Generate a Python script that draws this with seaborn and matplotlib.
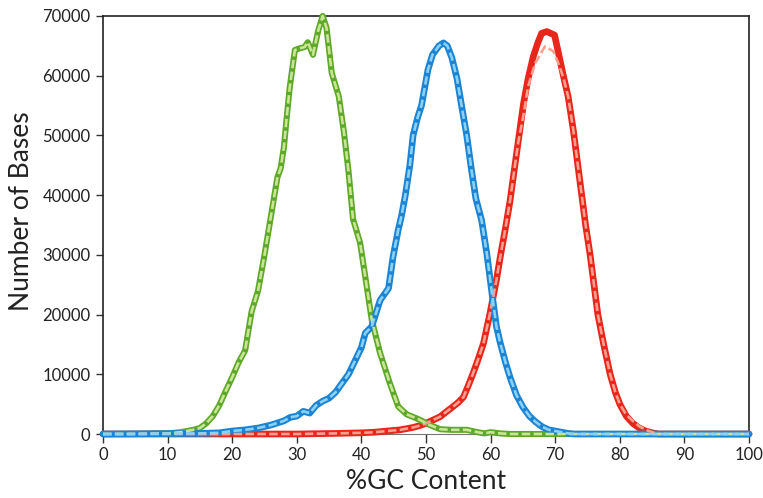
import matplotlib
matplotlib.use("Agg")
import matplotlib.pyplot as plt
import seaborn as sns

# GC content distributions (x = %GC, y = number of bases in thousands)
green_x = [0, 5, 10, 12, 14, 15, 16, 17, 18, 19, 20, 21, 22, 23, 24, 25, 26, 27, 27.5, 28, 28.4, 28.9,
           29.7, 30.5, 31.2, 31.7, 32.5, 33.3, 34.0, 34.6, 35.4, 36.5, 37.3, 38, 38.7, 39.8, 40.6, 41.6,
           42.9, 44.4, 45.7, 47, 48.8, 50.6, 52.2, 54, 56.3, 58, 59, 60, 61.5, 63, 70, 100]
green_y = [0, 0, 0.1, 0.3, 0.7, 1.0, 1.8, 3.0, 4.8, 7.2, 9.5, 12.0, 14.0, 20.5, 24.0, 30.0, 36.5, 43.0, 44.5,
           48.0, 52.6, 58.0, 64.3, 64.6, 64.8, 65.6, 63.5, 67.5, 70.0, 68.0, 60.5, 56.5, 50.5, 44.0, 36.0,
           32.0, 26.3, 19.1, 13.5, 8.5, 4.6, 3.3, 2.5, 1.5, 0.8, 0.7, 0.7, 0.3, 0.1, 0.3, 0.1, 0, 0, 0]

blue_x = [0, 15, 18, 20, 22, 24, 26, 28, 29, 30, 31, 32, 33, 34, 35, 36, 37, 38, 39.3, 40, 40.6, 41.6,
          42.9, 44.2, 44.9, 45.7, 46.2, 46.8, 47.5, 48, 48.7, 49.3, 49.8, 50.3, 51, 52, 52.7, 53.3, 54,
          54.8, 55.5, 56.3, 57, 57.7, 58.6, 59.4, 60.2, 60.9, 61.5, 62.3, 63, 64, 65, 66, 67, 68, 69, 70,
          71, 72, 73, 100]
blue_y = [0, 0.1, 0.2, 0.5, 0.7, 1.0, 1.5, 2.2, 2.8, 3.0, 3.8, 3.5, 4.8, 5.5, 6.0, 7.0, 8.5, 10.0, 12.9,
          14.5, 16.9, 18.0, 22.4, 24.4, 29.7, 34.2, 36.5, 40.0, 45.0, 50.0, 53.0, 55.0, 58.0, 61.0, 63.5,
          65.0, 65.5, 65.0, 63.0, 59.5, 55.0, 50.0, 44.5, 39.5, 35.8, 30.3, 23.6, 18.0, 15.2, 12.0, 9.5,
          6.5, 4.5, 3.0, 2.0, 1.2, 0.7, 0.5, 0.3, 0.1, 0, 0]

red_x = [0, 30, 36, 40, 42, 44, 46, 47, 48, 49, 50, 51, 52.2, 53, 54.2, 55, 55.8, 56.5, 57.3, 58, 58.9,
         59.9, 60.9, 61.5, 62.3, 63, 63.7, 64.3, 65.1, 65.8, 66.6, 67.3, 67.9, 68.7, 69.9, 70.5, 71.3,
         72.0, 72.8, 73.5, 74.1, 74.7, 75.4, 76, 76.6, 77.5, 78.5, 79.3, 80, 81, 82, 83, 84, 85, 86, 100]
red_y = [0, 0, 0.1, 0.2, 0.3, 0.5, 0.7, 0.9, 1.1, 1.4, 1.8, 2.3, 2.9, 3.6, 4.6, 5.3, 6.2, 8.0, 10.2, 12.3,
         15.2, 20.2, 25.8, 29.7, 34.5, 39.0, 44.5, 49.2, 55.4, 59.5, 63.2, 65.5, 67.1, 67.4, 66.8, 63.8,
         59.8, 56.5, 50.9, 45.0, 40.0, 35.0, 30.0, 25.0, 20.0, 15.0, 10.0, 7.0, 5.0, 3.0, 1.8, 1.0, 0.5,
         0.2, 0, 0]

# second (dashed) red series departs from the solid one around the peak
red2_x = [0, 30, 36, 40, 42, 44, 46, 47, 48, 49, 50, 51, 52.2, 53, 54.2, 55, 55.8, 56.5, 57.3, 58, 58.9,
          59.9, 60.9, 61.5, 62.3, 63, 63.7, 64.3, 65.1, 65.8, 66.9, 68.4, 69.7, 70.7, 71.3, 72.0, 72.8,
          73.5, 74.1, 74.7, 75.4, 76, 76.6, 77.5, 78.5, 79.3, 80, 81, 82, 83, 84, 85, 86, 100]
red2_y = [0, 0, 0.1, 0.2, 0.3, 0.5, 0.7, 0.9, 1.1, 1.4, 1.8, 2.3, 2.9, 3.6, 4.6, 5.3, 6.2, 8.0, 10.2, 12.3,
          15.2, 20.2, 25.8, 29.7, 34.5, 39.0, 44.5, 49.0, 53.5, 58.2, 62.1, 64.9, 64.1, 61.5, 59.5, 56.5,
          50.9, 45.0, 40.0, 35.0, 30.0, 25.0, 20.0, 15.0, 10.0, 7.0, 5.0, 3.2, 2.2, 1.3, 0.7, 0.3, 0, 0]

x_ticks = list(range(0, 101, 10))
y_ticks = list(range(0, 70001, 10000))

sns.set_style("white")
plt.rcParams['font.family'] = ['Lato', 'DejaVu Sans']

fig = plt.figure(figsize=(7.63, 4.98), dpi=100)
ax = fig.add_axes([0.135, 0.1285, 0.8467, 0.8394])

dash = (0, (3.2, 1.3))
solids = [(red_x, red_y, '#e8261c', 4.8), (green_x, green_y, '#5ea82a', 4.4),
          (blue_x, blue_y, '#1c84d2', 4.8)]
dashed = [(red2_x, red2_y, '#f7a08e'), (green_x, green_y, '#cbe596'),
          (blue_x, blue_y, '#8ad2f4')]

for xs, ys, col, lw in solids:
    sns.lineplot(x=xs, y=[v * 1000 for v in ys], ax=ax, color=col, linewidth=lw, clip_on=False,
                 zorder=3, estimator=None, sort=False, solid_joinstyle='round',
                 solid_capstyle='round')
for xs, ys, col in dashed:
    sns.lineplot(x=xs, y=[v * 1000 for v in ys], ax=ax, color=col, linewidth=1.9, clip_on=False,
                 zorder=3, estimator=None, sort=False, linestyle=dash)

ax.set_xlim(0, 100)
ax.set_ylim(0, 70000)
ax.set_xticks(x_ticks)
ax.set_yticks(y_ticks)
ax.tick_params(axis='both', direction='out', width=1, color='#333333',
               labelsize=12, labelcolor='#222222', bottom=True, left=True)
ax.tick_params(axis='x', length=6.5, pad=3)
ax.tick_params(axis='y', length=5, pad=4)
for side in ['left', 'top', 'right']:
    ax.spines[side].set_color('#222222')
    ax.spines[side].set_linewidth(1.2)
ax.spines['bottom'].set_color('#777777')
ax.set_xlabel('%GC Content', fontsize=19, color='#222222', labelpad=4)
ax.set_ylabel('Number of Bases', fontsize=19, color='#222222', labelpad=6)
ax.yaxis.label.set_y(0.533)

fig.savefig('out.png', dpi=100)
